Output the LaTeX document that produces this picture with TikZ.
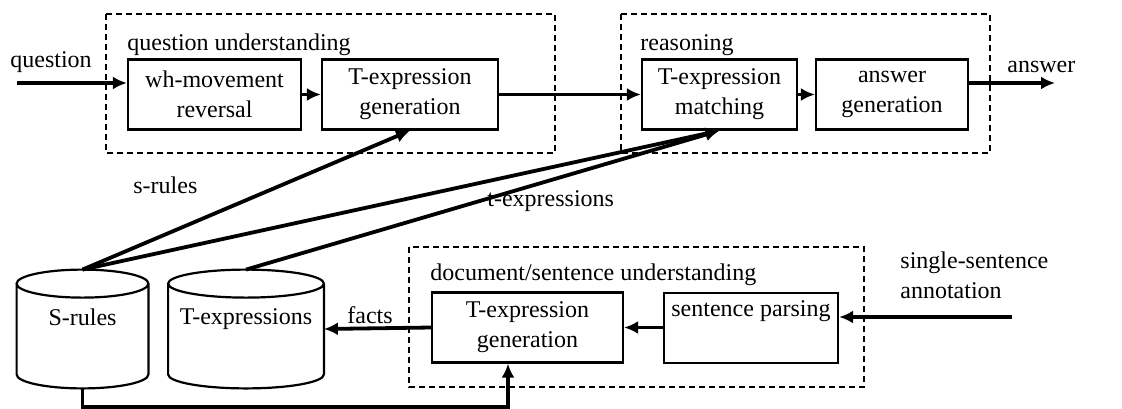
\documentclass[tikz,border=0pt]{standalone}
\usepackage{fontspec}
\setmainfont{Liberation Serif}
\usetikzlibrary{arrows.meta}
\usetikzlibrary{calc}

\begin{document}
\begin{tikzpicture} [x=0.5pt,y=-0.5pt,
  font=\fontsize{12pt}{15pt}\selectfont,
  >={Latex[length=7pt,width=6.5pt]},
  blk/.style={draw,line width=1.1pt,align=center,inner sep=0pt,minimum height=35pt},
  db/.style={inner sep=0pt,minimum height=59pt,text depth=12pt},
  grp/.style={line width=1pt,dash pattern=on 3pt off 2pt},
  flow/.style={->,line width=1.9pt},
  lbl/.style={inner sep=0pt,anchor=base west}]
\useasboundingbox (0,0) rectangle (1122,408);
% groups
\draw[grp] (106,14) rectangle (555,153);
\draw[grp] (621,14) rectangle (990,153);
\draw[grp] (409,247) rectangle (864,387);
\node[lbl] (qlab) at (127,50) {question understanding};
\node[lbl] (rlab) at (640,50) {reasoning};
\node[lbl] (dlab) at (430,280) {document/sentence understanding};
% blocks
\node[blk,minimum width=86.5pt] (whm) at (214.5,94.5) {wh-movement\\reversal};
\node[blk,minimum width=88pt] (tgen) at (410,94.5) {T-expression\\generation};
\node[blk,minimum width=77.5pt] (tmatch) at (719.5,94.5) {T-expression\\matching};
\node[blk,minimum width=76pt] (agen) at (892,94.5) {answer\\generation};
\node[blk,minimum width=95.5pt] (tgen2) at (527.5,327.5) {T-expression\\generation};
\node[blk,minimum width=87pt] (parse) at (751,328) {sentence parsing\\\strut};
% databases
\node[db,minimum width=65.5pt] (srules) at (82.5,329) {S-rules};
\node[db,minimum width=77.5pt] (texps) at (246,329) {T-expressions};
\foreach \db in {srules,texps} {
  \draw[line width=1.1pt] let \p1=(\db.north west), \p2=(\db.south east), \n1={(\x2-\x1)/2} in
    (\x1,\y1-7pt) -- (\x1,\y2+7pt) arc[start angle=180,end angle=360,x radius=\n1,y radius=7pt]
    -- (\x2,\y1-7pt)
    (\x1/2+\x2/2,\y1-7pt) ellipse[x radius=\n1,y radius=7pt];
}
% outside texts
\node[lbl] (qin) at (10,67) {question};
\node[lbl] (aout) at (1007,72) {answer};
\node[lbl] (sr) at (133,193) {s-rules};
\node[lbl] (te) at (487,206) {t-expressions};
\node[lbl] (fa) at (347,323) {facts};
\node[lbl,align=left,anchor=north west] (ssa) at (900,251) {single-sentence\\annotation};
\coordinate (q) at (17,83);
\coordinate (a) at (1055,83);
\coordinate (ss) at (1012,317);
\coordinate (bc) at (508,407);
% connectors
\draw[flow] (q) -- (q -| whm.west);
\draw[flow] (whm) -- (tgen);
\draw[flow] (tgen) -- (tmatch);
\draw[flow] (tmatch) -- (agen);
\draw[flow] (agen.east |- a) -- (a);
\draw[flow] (srules.north) -- (tgen.south);
\draw[flow] (srules.north) -- (tmatch.south);
\draw[flow] (texps.north) -- (tmatch.south);
\draw[flow] (ss) -- (ss -| parse.east);
\draw[flow] (parse.west |- tgen2) -- (tgen2);
\draw[flow] (tgen2.west) -- (texps.east);
\draw[flow] (srules.south) |- (bc) -- (bc |- tgen2.south);
\end{tikzpicture}
\end{document}
